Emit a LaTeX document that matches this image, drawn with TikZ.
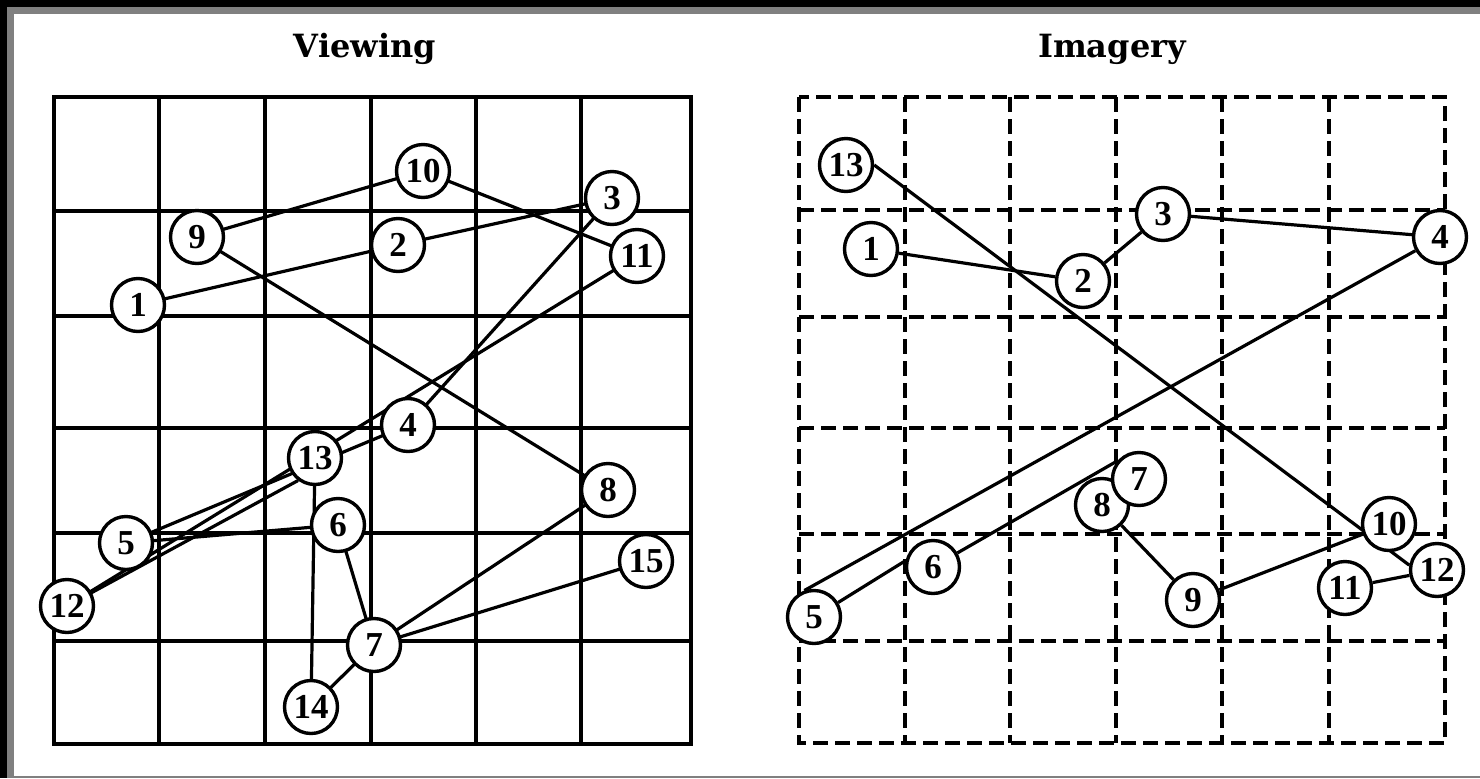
\documentclass[tikz,border=0pt]{standalone}
\usepackage{fontspec}
\usetikzlibrary{backgrounds}
\setmainfont{Liberation Serif}
\newfontfamily\titlefont{DejaVu Serif}
\begin{document}
\begin{tikzpicture}[x=0.5pt,y=-0.5pt,
  fix/.style={circle,draw,fill=white,line width=1.7pt,minimum size=26.5pt,inner sep=0pt,
              font=\bfseries\fontsize{17.5}{18}\selectfont},
  solidgrid/.style={line width=2.2pt},
  dashgrid/.style={line width=2.2pt,dash pattern=on 7.5pt off 3.5pt},
  edge/.style={line width=1.6pt},
  ttl/.style={font=\titlefont\bfseries\fontsize{16}{17}\selectfont,anchor=base,inner sep=0pt}]
\useasboundingbox (0,0) rectangle (1480,778);
\begin{scope}[on background layer]
\fill[white] (0,0) rectangle (1480,778);
% scan frame
\fill[black] (0,0) rectangle (1480,7);
\fill[black] (0,0) rectangle (7,778);
\fill[gray] (7,7) rectangle (1480,14);
\fill[gray] (7,7) rectangle (14,778);
\fill[gray] (7,776) rectangle (1480,778);
% viewing grid
\foreach \x in {159,265,371,476,581} \draw[solidgrid] (\x,97) -- (\x,744);
\foreach \y in {211,316,428,533,641} \draw[solidgrid] (54,\y) -- (691,\y);
\draw[solidgrid] (54,97) rectangle (691,744);
% imagery grid
\foreach \x in {905,1010,1116,1222,1329} \draw[dashgrid] (\x,97) -- (\x,743);
\foreach \y in {210,317,428,534,641} \draw[dashgrid] (799,\y) -- (1445,\y);
\draw[dashgrid] (799,97) rectangle (1445,743);
\end{scope}

% titles
\node[ttl] (tv) at (365,57) {Viewing};
\node[ttl] (ti) at (1112,57) {Imagery};

% viewing fixations
\node[fix] (n1) at (138,305) {1};
\node[fix] (n2) at (398,245) {2};
\node[fix] (n3) at (612,198) {3};
\node[fix] (n4) at (408,425) {4};
\node[fix] (n5) at (126,543) {5};
\node[fix] (n6) at (338,525) {6};
\node[fix] (n7) at (374,645) {7};
\node[fix] (n8) at (608,490) {8};
\node[fix] (n9) at (197,237) {9};
\node[fix] (n10) at (423,171) {10};
\node[fix] (n11) at (637,256) {11};
\node[fix] (n12) at (67,606) {12};
\node[fix] (n13) at (315,458) {13};
\node[fix] (n14) at (311,707) {14};
\node[fix] (n15) at (646,561) {15};
\begin{scope}[on background layer]
\draw[edge] (n1.center) -- (n2.center);
\draw[edge] (n2.center) -- (n3.center);
\draw[edge] (n3.center) -- (n4.center);
\draw[edge] (n4.center) -- (n5.center);
\draw[edge] (n5.center) -- (n6.center);
\draw[edge] (n6.center) -- (n7.center);
\draw[edge] (n7.center) -- (n8.center);
\draw[edge] (n8.center) -- (n9.center);
\draw[edge] (n9.center) -- (n10.center);
\draw[edge] (n10.center) -- (n11.center);
\draw[edge] (n11.center) -- (n12.center);
\draw[edge] (n12.center) -- (n13.233);
\draw[edge] (n13.center) -- (n14.center);
\draw[edge] (n14.center) -- (n7.center);
\draw[edge] (n7.center) -- (n15.center);
\end{scope}

% imagery fixations
\node[fix] (m1) at (871,249) {1};
\node[fix] (m2) at (1083,281) {2};
\node[fix] (m3) at (1163,214) {3};
\node[fix] (m4) at (1440,237) {4};
\node[fix] (m5) at (814,617) {5};
\node[fix] (m6) at (933,567) {6};
\node[fix] (m9) at (1193,600) {9};
\node[fix] (m10) at (1389,524) {10};
\node[fix] (m11) at (1345,588) {11};
\node[fix] (m12) at (1437,570) {12};
\node[fix] (m13) at (846,165) {13};
\node[fix] (m8) at (1102,505) {8};
\node[fix] (m7) at (1139,479) {7};
\begin{scope}[on background layer]
\draw[edge] (m1) -- (m2);
\draw[edge] (m2) -- (m3);
\draw[edge] (m3) -- (m4);
\draw[edge] (m4) -- (m5.110);
\draw[edge] (m5.31) -- (m6.167);
\draw[edge] (m6) -- (m7.140);
\draw[edge] (m8) -- (m9);
\draw[edge] (m9) -- (m10);
\draw[edge] (m11) -- (m12);
\draw[edge] (m13.east) -- (m12.170);
\end{scope}
\end{tikzpicture}
\end{document}
